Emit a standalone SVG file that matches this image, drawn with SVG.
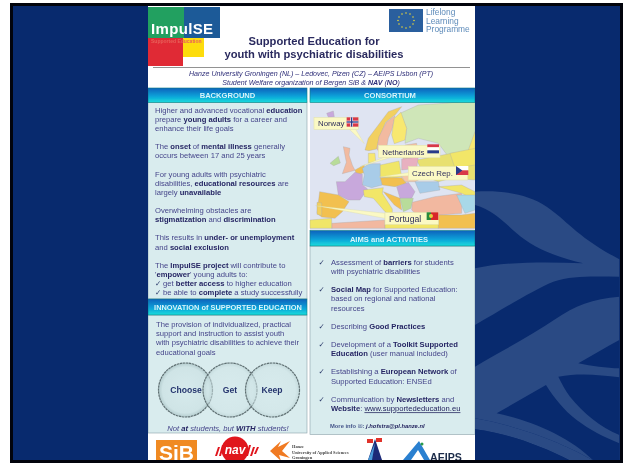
<svg xmlns="http://www.w3.org/2000/svg" width="625" height="463" viewBox="0 0 625 463">
<style>
text{font-family:"Liberation Sans",Arial,sans-serif}
.b{font-size:7.65px;fill:#45458a}
.b tspan.s,.s{font-weight:700;fill:#262664}
.h{font-size:7.6px;font-weight:700;fill:#d8f4fa;text-anchor:middle}
.sub{font-size:7.1px;font-style:italic;fill:#2e2e78;text-anchor:middle}
.t{font-size:11.2px;font-weight:700;fill:#2a2a5e;text-anchor:middle}
.c{font-family:"DejaVu Sans",sans-serif;font-size:7.5px;fill:#2a3a6a}
.lab{font-size:23.500px;fill:#30305c}
.cir{fill:url(#cg);stroke:#5f6f72;stroke-width:1.2;stroke-dasharray:2.5 .6}
.ct{font-size:8.6px;font-weight:700;fill:#25356e;text-anchor:middle}
.box{fill:#fbf9c4;stroke:#e6e6b0;stroke-width:2}
.pt{fill:#fbf9c4;stroke:#d8d8a0;stroke-width:1}
.panel{fill:#d9ecee;stroke:#8aa0a8;stroke-width:.6}
.ll{font-size:8.4px;fill:#5f8cba}
</style>
<defs>
<linearGradient id="hg" x1="0" y1="0" x2="0" y2="1"><stop offset="0" stop-color="#0a62bc"/><stop offset=".55" stop-color="#08a0d8"/><stop offset="1" stop-color="#1cdcdc"/></linearGradient>
<radialGradient id="cg"><stop offset="0" stop-color="#d6eaec"/><stop offset=".85" stop-color="#cfe4e6"/><stop offset="1" stop-color="#b4ccce"/></radialGradient>
<filter id="soft" x="0" y="0" width="100%" height="100%"><feGaussianBlur stdDeviation="0.55"/></filter>
</defs>
<rect width="625" height="463" fill="#fff"/>
<g id="background">
<rect x="11" y="4" width="611" height="458" fill="#082a6e"/>
<g transform="translate(470,0) scale(.3333)">
<path fill="#2a4a84" d="M15 575C90 570 170 580 230 620C290 660 320 710 448 778V1100L448 1382H370C300 1340 160 1280 15 1255Z"/>
<path fill="#082a6e" d="M15 615C70 630 100 665 140 700C190 745 270 775 340 790C230 785 110 785 15 805Z"/>
<path fill="#082a6e" d="M15 975C110 920 190 870 250 845C310 825 380 830 448 830V890C370 895 310 920 260 955C180 1010 90 1055 15 1100Z"/>
<path fill="#082a6e" d="M325 1090C370 1065 410 1040 448 1020V1105C410 1105 365 1098 325 1090Z"/>
<path fill="#082a6e" d="M265 1130C330 1118 390 1125 448 1132V1305C390 1280 340 1240 300 1190C285 1170 275 1150 265 1130Z"/>
<path fill="#082a6e" d="M228 1155C250 1190 280 1230 320 1260C360 1290 400 1310 448 1330V1382H370C300 1310 180 1260 80 1240Z"/>
<path fill="#2a4a84" d="M15 1255C160 1280 300 1340 370 1382H300C210 1335 110 1300 15 1288Z"/>
<path fill="#082a6e" d="M15 1288C110 1300 210 1335 300 1382H15Z"/>
</g>
</g>
<g id="poster" filter="url(#soft)">
<rect x="148" y="6" width="327" height="454" fill="#fff"/>
<g id="logo-impulse">
<rect x="148" y="7" width="36" height="31" fill="#22a060"/>
<rect x="184" y="7" width="36" height="31" fill="#1f5a98"/>
<rect x="148" y="38" width="35" height="28" fill="#e02a34"/>
<rect x="183" y="38" width="21" height="19" fill="#fddc10"/>
<text x="151" y="34" font-size="15" font-weight="700" fill="#fff" letter-spacing=".35">ImpulSE</text>
<text x="151" y="43" font-size="5" font-weight="700" fill="#e8605a">Supported Education</text>
</g>
<g id="logo-lll">
<rect x="389" y="9" width="34" height="23" fill="#2a5e9e"/>
<g fill="#e8d83a"><circle cx="406" cy="13" r=".8"/><circle cx="410" cy="14" r=".8"/><circle cx="413" cy="17" r=".8"/><circle cx="414" cy="20.500" r=".8"/><circle cx="413" cy="24" r=".8"/><circle cx="410" cy="27" r=".8"/><circle cx="406" cy="28" r=".8"/><circle cx="402" cy="27" r=".8"/><circle cx="399" cy="24" r=".8"/><circle cx="398" cy="20.500" r=".8"/><circle cx="399" cy="17" r=".8"/><circle cx="402" cy="14" r=".8"/></g>
<text class="ll" x="426" y="15">Lifelong</text><text class="ll" x="426" y="23.500">Learning</text><text class="ll" x="426" y="32">Programme</text>
</g>
<g id="title">
<text class="t" x="314" y="44.500">Supported Education for</text>
<text class="t" x="314" y="57.500">youth with psychiatric disabilities</text>
<rect x="153" y="67" width="317" height=".8" fill="#777"/>
<text class="sub" x="311" y="75.500">Hanze University Groningen (NL) – Ledovec, Plzen (CZ) – AEIPS Lisbon (PT)</text>
<text class="sub" x="311" y="84.500">Student Welfare organization of Bergen SiB &amp; <tspan font-weight="700">NAV</tspan> (<tspan font-weight="700">NO</tspan>)</text>
</g>
<g id="background-panel">
<rect x="148" y="102" width="159" height="197" class="panel"/>
<rect x="148" y="88" width="159" height="14.500" fill="url(#hg)" stroke="#0b7c80" stroke-width=".6"/>
<text class="h" x="227.500" y="97.500">BACKGROUND</text>
<text class="b" x="155" y="112.700">Higher and advanced vocational <tspan class="s">education</tspan></text>
<text class="b" x="155" y="121.800">prepare <tspan class="s">young adults</tspan> for a career and</text>
<text class="b" x="155" y="131">enhance their life goals</text>
<text class="b" x="155" y="149">The <tspan class="s">onset</tspan> of <tspan class="s">mental illness</tspan> generally</text>
<text class="b" x="155" y="158.300">occurs between 17 and 25 years</text>
<text class="b" x="155" y="176.700">For young adults with psychiatric</text>
<text class="b" x="155" y="186">disabilities, <tspan class="s">educational resources</tspan> are</text>
<text class="b" x="155" y="195">largely <tspan class="s">unavailable</tspan></text>
<text class="b" x="155" y="213">Overwhelming obstacles are</text>
<text class="b" x="155" y="222.300"><tspan class="s">stigmatization</tspan> and <tspan class="s">discrimination</tspan></text>
<text class="b" x="155" y="240.300">This results in <tspan class="s">under- or unemployment</tspan></text>
<text class="b" x="155" y="249.700">and <tspan class="s">social exclusion</tspan></text>
<text class="b" x="155" y="268">The <tspan class="s">ImpulSE project</tspan> will contribute to</text>
<text class="b" x="155" y="277">'<tspan class="s">empower</tspan>' young adults to:</text>
<text class="c" x="155" y="286">✓</text><text class="b" x="163" y="286">get <tspan class="s">better access</tspan> to higher education</text>
<text class="c" x="155" y="295">✓</text><text class="b" x="163" y="295">be able to <tspan class="s">complete</tspan> a study successfully</text>
</g>
<g id="innovation-panel">
<rect x="148" y="315" width="159" height="118" class="panel"/>
<rect x="148" y="299" width="159" height="16" fill="url(#hg)" stroke="#0b7c80" stroke-width=".6"/>
<text class="h" x="228" y="309.500" style="font-size:7.4px">INNOVATION of SUPPORTED EDUCATION</text>
<text class="b" x="156" y="327.300">The provision of individualized, practical</text>
<text class="b" x="156" y="336.300">support and instruction to assist youth</text>
<text class="b" x="156" y="345.300">with psychiatric disabilities to achieve their</text>
<text class="b" x="156" y="355">educational goals</text>
<g id="choose"><circle class="cir" cx="185.500" cy="390" r="27"/></g>
<g id="get"><circle class="cir" cx="230" cy="390" r="27" style="fill-opacity:.55"/></g>
<g id="keep"><circle class="cir" cx="272.500" cy="390" r="27" style="fill-opacity:.55"/></g>
<text class="ct" x="186" y="392.500">Choose</text>
<text class="ct" x="230" y="392.500">Get</text>
<text class="ct" x="272" y="392.500">Keep</text>
<text class="b" x="228" y="431" text-anchor="middle" font-style="italic">Not <tspan class="s">at</tspan> students, but <tspan class="s">WITH</tspan> students!</text>
</g>
<g id="consortium-panel">
<rect x="310" y="102" width="165" height="128" fill="#dfe4f2"/>
<g id="map" transform="translate(305,85) scale(.3333)" stroke="#a8a8a8" stroke-width="1">
<path fill="#cfe6b8" d="M285 85L340 60L420 55L510 45V230L470 205L430 215L400 175L340 160L300 175L305 130Z"/>
<path fill="#f2d060" d="M180 195L190 160L220 120L250 80L290 65L272 88L242 112L222 160L215 192L192 197Z"/>
<path fill="#f2baa0" d="M216 192L222 155L244 112L270 92L262 130L250 160L246 182L226 206Z"/>
<path fill="#f8e870" d="M268 100L288 82L305 130L300 165L268 176L260 150Z"/>
<path fill="#c8a8dc" d="M65 85L85 78L88 95L70 97Z"/>
<path fill="#f2baa0" d="M115 185L135 190L132 210L142 240L150 256L112 266L124 232Z"/>
<path fill="#b8dc9a" d="M75 235L100 214L106 234L86 242Z"/>
<path fill="#f8e870" d="M190 205L210 205L212 230L190 234Z"/>
<path fill="#f2c050" d="M150 255L178 240L178 262L155 272Z"/>
<path fill="#a8cce8" d="M172 250L192 236L226 236L226 280L232 300L200 308L172 300L178 270Z"/>
<path fill="#f0e668" d="M226 240L282 228L290 275L260 280L226 276Z"/>
<path fill="#c8a8dc" d="M150 262L172 268L172 300L188 312L165 345L130 345L100 330L94 290L120 290Z"/>
<path fill="#f2c050" d="M44 320L100 330L132 350L112 380L90 400L50 396L36 385L40 352Z"/>
<path fill="#f2d060" d="M36 352L50 354L50 392L36 388Z"/>
<path fill="#f2e668" d="M175 315L235 308L232 325L262 372L262 392L240 380L205 340L178 335Z"/>
<path fill="#f2c050" d="M226 278L290 278L305 295L270 305L232 300Z"/>
<path fill="#c8a8dc" d="M275 305L310 292L330 320L320 340L285 340Z"/>
<path fill="#f4c8a8" d="M290 275L335 250L360 275L330 290L300 290Z"/>
<path fill="#e8e070" d="M335 225L440 205L510 200V285L440 280L400 290L360 275Z"/>
<path fill="#e8b0c0" d="M290 222L340 215L335 250L290 255Z"/>
<path fill="#f2c0a0" d="M300 180L335 175L340 215L295 222Z"/>
<path fill="#a8cce8" d="M330 290L400 290L405 315L345 325Z"/>
<path fill="#f4c050" d="M235 320L285 340L290 375L268 360Z"/>
<path fill="#b8dc9a" d="M285 340L325 340L318 370L295 380Z"/>
<path fill="#f2b8a0" d="M322 352L390 335L470 325L470 385L380 392L330 385L320 375Z"/>
<path fill="#f2e668" d="M400 305L470 300L510 320V345L470 325Z"/>
<path fill="#a8d8e8" d="M455 330L510 330V375L480 385Z"/>
<path fill="#f2c050" d="M390 390L470 390L510 385V430L400 430Z"/>
<path fill="#f8e870" d="M490 195L510 140V235L490 230Z"/>
<path fill="#f2e668" d="M435 205L510 190V240L450 250Z"/>
<path fill="#f2b8a0" d="M80 415L240 405L240 430L80 430Z"/>
<path fill="#f0e668" d="M15 405L80 400L80 430H15Z"/>
<path fill="#f2e668" d="M240 408L400 405V430H240Z"/>
</g>
<g id="labels" transform="translate(305,85) scale(.3333)">
<path class="pt" d="M130 130L178 176L150 130Z"/>
<path class="pt" d="M262 216L165 245L240 216Z"/>
<path class="pt" d="M316 262L222 276L316 272Z"/>
<path class="pt" d="M240 385L32 362L240 400Z"/>
<g id="norway"><rect class="box" x="27" y="98" width="133" height="35"/><text class="lab" x="39" y="124">Norway</text>
<rect x="125" y="97" width="35" height="28" fill="#d8384a"/><rect x="136" y="97" width="8" height="28" fill="#fff"/><rect x="125" y="107" width="35" height="8" fill="#fff"/><rect x="138" y="97" width="4" height="28" fill="#2a3a8a"/><rect x="125" y="109" width="35" height="4" fill="#2a3a8a"/></g>
<g id="netherlands"><rect class="box" x="220" y="181" width="185" height="37"/><text class="lab" x="232" y="210">Netherlands</text>
<rect x="367" y="178" width="35" height="9" fill="#d8384a"/><rect x="367" y="187" width="35" height="9" fill="#fff"/><rect x="367" y="196" width="35" height="9" fill="#2a3a8a"/></g>
<g id="czech"><rect class="box" x="310" y="245" width="178" height="40"/><text class="lab" x="321" y="274">Czech Rep.</text>
<rect x="453" y="243" width="37" height="13" fill="#fff"/><rect x="453" y="256" width="37" height="14" fill="#d8384a"/><path d="M453 243L472 256.500L453 270Z" fill="#2a3a8a"/></g>
<g id="portugal"><rect class="box" x="240" y="383" width="160" height="35"/><text class="lab" x="252" y="411" style="font-size:26px">Portugal</text>
<rect x="365" y="382" width="13" height="23" fill="#2a8a3a"/><rect x="378" y="382" width="22" height="23" fill="#d8282a"/><circle cx="378" cy="393" r="6" fill="#e8d040"/></g>
</g>
<rect x="310" y="88" width="165" height="14.500" fill="url(#hg)" stroke="#0b7c80" stroke-width=".6"/>
<text class="h" x="390" y="97.500">CONSORTIUM</text>
</g>
<g id="aims-panel">
<rect x="310" y="246" width="165" height="188.500" class="panel"/>
<rect x="310" y="230.500" width="165" height="15.500" fill="url(#hg)" stroke="#0b7c80" stroke-width=".6"/>
<text class="h" x="389" y="241.500">AIMS and ACTIVITIES</text>
<text class="c" x="318.500" y="265">✓</text><text class="b" x="331" y="265">Assessment of <tspan class="s">barriers</tspan> for students</text>
<text class="b" x="331" y="274.300">with psychiatric disabilities</text>
<text class="c" x="318.500" y="292">✓</text><text class="b" x="331" y="292.300"><tspan class="s">Social Map</tspan> for Supported Education:</text>
<text class="b" x="331" y="301.300">based on regional and national</text>
<text class="b" x="331" y="311">resources</text>
<text class="c" x="318.500" y="329">✓</text><text class="b" x="331" y="329">Describing <tspan class="s">Good Practices</tspan></text>
<text class="c" x="318.500" y="347">✓</text><text class="b" x="331" y="347">Development of a <tspan class="s">Toolkit Supported</tspan></text>
<text class="b" x="331" y="356.300"><tspan class="s">Education</tspan> (user manual included)</text>
<text class="c" x="318.500" y="374">✓</text><text class="b" x="331" y="374.300">Establishing a <tspan class="s">European Network</tspan> of</text>
<text class="b" x="331" y="383.700">Supported Education: ENSEd</text>
<text class="c" x="318.500" y="402">✓</text><text class="b" x="331" y="402">Communication by <tspan class="s">Newsletters</tspan> and</text>
<text class="b" x="331" y="411.300"><tspan class="s">Website</tspan>: <tspan text-decoration="underline" fill="#23235e">www.supportededucation.eu</tspan></text>
<text x="330" y="427.700" font-size="5.8" font-weight="700" fill="#45558a">More info <tspan font-family="DejaVu Sans">✉</tspan>: <tspan font-style="italic" fill="#23235e">j.hofstra@pl.hanze.nl</tspan></text>
</g>
<g id="logos">
<g id="logo-sib"><rect x="156" y="440" width="41" height="22" fill="#f08a20"/><text x="176.500" y="460" font-size="21" font-weight="700" fill="#fff" text-anchor="middle">SiB</text></g>
<g id="logo-nav"><circle cx="235" cy="450" r="13.500" fill="#e0141e"/><text x="235" y="453.500" font-size="12" font-weight="700" font-style="italic" fill="#fff" text-anchor="middle">nav</text>
<path d="M218 447l2 0-3 9-2 0zM222 445l2 0-3 11-2 0zM249 445l2 0-3 11-2 0zM253 447l2 0-3 9-2 0zM257 447l2 0-3 7-2 0z" fill="#e0141e"/></g>
<g id="logo-hanze"><path d="M270 451L281 441L278 447L290 441L282 451L290 458L279 455L281 461Z" fill="#f07a20"/>
<g fill="#444" font-size="4.400" font-weight="700"><text x="292" y="447.500" style="font-family:'Liberation Serif',serif">Hanze</text><text x="292" y="454" style="font-family:'Liberation Serif',serif">University of Applied Sciences</text><text x="292" y="459" style="font-family:'Liberation Serif',serif">Groningen</text></g></g>
<g id="logo-blue"><path d="M368 460L375 439L382 460Z" fill="#1a2a78"/><rect x="367" y="439" width="6" height="4" fill="#e0302a"/><rect x="376" y="438" width="6" height="4" fill="#e0302a"/><path d="M375 443L372 460H368Z" fill="#4a9ad8"/></g>
<g id="logo-aeips"><path d="M403 460L419 441L430 460H424L418 450L411 460Z" fill="#2a80d0"/><circle cx="422" cy="444" r="1.500" fill="#2a9a4a"/><text x="430" y="461" font-size="10.600" font-weight="700" fill="#1a2a48">AEIPS</text></g>
</g>
</g>
<g id="frame" fill="#02040c">
<rect x="10" y="3" width="613" height="3"/>
<rect x="10" y="460" width="613" height="3"/>
<rect x="10" y="3" width="3" height="460"/>
<rect x="620" y="3" width="3" height="460"/>
</g>
</svg>
